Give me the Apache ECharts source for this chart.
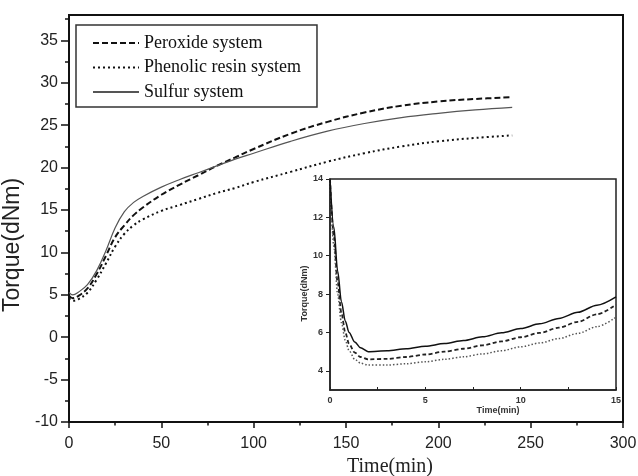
<!DOCTYPE html>
<html>
<head>
<meta charset="utf-8">
<title>Torque curves</title>
<script src="https://cdn.jsdelivr.net/npm/echarts@6/dist/echarts.min.js"></script>
<style>
html, body { margin: 0; padding: 0; background: #fff; }
#chart { width: 638px; height: 476px; }
</style>
</head>
<body>
<div id="chart"></div>
<script>
// main curves, 0-240 min
var timeMain = [0, 2, 5, 10, 15, 20, 25, 30, 35, 40, 50, 60, 70, 80, 90, 100, 120, 140, 160, 180, 200, 220, 240];
var peroxideMain = [4.9, 4.6, 4.85, 5.75, 7.45, 9.6, 11.8, 13.2, 14.4, 15.3, 16.8, 18.0, 19.1, 20.2, 21.2, 22.2, 24.0, 25.4, 26.5, 27.3, 27.8, 28.1, 28.3];
var phenolicMain = [4.6, 4.3, 4.47, 5.25, 6.8, 8.7, 10.7, 12.2, 13.2, 13.9, 14.9, 15.6, 16.3, 17.0, 17.6, 18.3, 19.5, 20.7, 21.7, 22.5, 23.1, 23.5, 23.8];
var sulfurMain = [5.3, 5.0, 5.3, 6.2, 7.85, 10.2, 12.9, 14.8, 15.9, 16.6, 17.7, 18.6, 19.4, 20.2, 21.0, 21.7, 23.1, 24.3, 25.2, 25.9, 26.4, 26.8, 27.1];

// inset curves, 0-15 min
var timeInset = [0, 0.2, 0.4, 0.6, 0.8, 1.0, 1.3, 1.6, 2, 3, 4, 5, 6, 7, 8, 9, 10, 11, 12, 13, 14, 15];
var peroxideInset = [14, 11, 8.6, 7.0, 6.0, 5.4, 4.95, 4.72, 4.6, 4.62, 4.72, 4.85, 5.0, 5.15, 5.33, 5.53, 5.75, 5.98, 6.25, 6.55, 6.95, 7.45];
var phenolicInset = [14, 10.5, 8.0, 6.5, 5.6, 5.05, 4.6, 4.4, 4.3, 4.3, 4.37, 4.47, 4.6, 4.73, 4.88, 5.05, 5.25, 5.45, 5.68, 5.95, 6.3, 6.8];
var sulfurInset = [14, 11.5, 9.2, 7.6, 6.6, 6.0, 5.5, 5.2, 5.0, 5.05, 5.15, 5.28, 5.42, 5.58, 5.77, 5.98, 6.2, 6.45, 6.73, 7.05, 7.42, 7.85];

var seriesNames = ['Peroxide system', 'Phenolic resin system', 'Sulfur system'];
var yTicksMain = [-10, -5, 0, 5, 10, 15, 20, 25, 30, 35];
var yTicksInset = [4, 6, 8, 10, 12, 14];

function pairs(xs, ys) {
    return xs.map(function (x, i) { return [x, ys[i]]; });
}

var ink = '#111';
var sans = 'Liberation Sans';
var serif = 'Liberation Serif';

var myChart = echarts.init(document.getElementById('chart'));
var option = {
    animation: false,
    backgroundColor: '#fff',
    color: [ink, ink, '#555'],
    legend: {
        left: 76,
        top: 25,
        orient: 'vertical',
        data: seriesNames,
        itemWidth: 46,
        itemHeight: 12,
        itemGap: 6.5,
        padding: [9, 16, 6, 16],
        borderColor: '#333',
        borderWidth: 1.5,
        itemStyle: { opacity: 0 },   // keep only the line sample
        textStyle: { fontFamily: serif, fontSize: 18, color: ink }
    },
    grid: [
        { left: 69, top: 15, right: 15, bottom: 54, outerBoundsMode: 'none', show: true, borderColor: ink, borderWidth: 2 },
        { left: 330, top: 179, width: 286, height: 211, outerBoundsMode: 'none', show: true, borderColor: '#222', borderWidth: 1.5 }
    ],
    xAxis: [
        {
            type: 'value', gridIndex: 0, min: 0, max: 300, interval: 50,
            axisLine: { onZero: false, lineStyle: { color: ink, width: 2 } },
            axisTick: { length: 6, lineStyle: { color: ink, width: 1.5 } },
            minorTick: { show: true, splitNumber: 2, length: 3.5, lineStyle: { color: ink, width: 1.5 } },
            splitLine: { show: false },
            axisLabel: { margin: 14, fontSize: 16, fontFamily: sans, color: '#222' },
            name: 'Time(min)', nameLocation: 'middle', nameGap: 34,
            nameTextStyle: { fontFamily: serif, fontSize: 20, color: '#222', padding: [0, 0, 0, 88] }
        },
        {
            type: 'value', gridIndex: 1, min: 0, max: 15, interval: 5,
            axisLine: { onZero: false, lineStyle: { color: '#222', width: 1.5 } },
            axisTick: { inside: true, length: 3, lineStyle: { color: '#222', width: 1 } },
            minorTick: { show: true, splitNumber: 2, length: 3, lineStyle: { color: '#222', width: 1 } },
            splitLine: { show: false },
            axisLabel: { margin: 6, fontSize: 9, fontWeight: 'bold', fontFamily: sans, color: '#333' },
            name: 'Time(min)', nameLocation: 'middle', nameGap: 16,
            nameTextStyle: { fontFamily: sans, fontWeight: 'bold', fontSize: 9, color: '#333', padding: [0, 0, 0, 50] }
        }
    ],
    yAxis: [
        {
            type: 'value', gridIndex: 0, min: -10, max: 38, interval: 5,
            axisLine: { onZero: false, lineStyle: { color: ink, width: 2 } },
            axisTick: { customValues: yTicksMain, length: 8, lineStyle: { color: ink, width: 1.5 } },
            minorTick: { show: true, splitNumber: 2, length: 4, lineStyle: { color: ink, width: 1.5 } },
            splitLine: { show: false },
            axisLabel: { customValues: yTicksMain, margin: 11, fontSize: 16, fontFamily: sans, color: '#222' },
            name: 'Torque(dNm)', nameLocation: 'middle', nameGap: 40,
            nameTextStyle: { fontFamily: sans, fontSize: 23, color: '#222', padding: [0, 53, 0, 0] }
        },
        {
            type: 'value', gridIndex: 1, min: 3, max: 14,
            axisLine: { onZero: false, lineStyle: { color: '#222', width: 1.5 } },
            axisTick: { customValues: yTicksInset, length: 4, lineStyle: { color: '#222', width: 1 } },
            splitLine: { show: false },
            axisLabel: { customValues: yTicksInset, margin: 7, fontSize: 9, fontWeight: 'bold', fontFamily: sans, color: '#333' },
            name: 'Torque(dNm)', nameLocation: 'middle', nameGap: 20,
            nameTextStyle: { fontFamily: sans, fontWeight: 'bold', fontSize: 9, color: '#333', padding: [0, 18, 0, 0] }
        }
    ],
    series: [
        {
            name: seriesNames[0], type: 'line', xAxisIndex: 0, yAxisIndex: 0,
            data: pairs(timeMain, peroxideMain), smooth: 0.4, symbol: 'none',
            lineStyle: { color: ink, width: 2, type: [6, 3] }
        },
        {
            name: seriesNames[1], type: 'line', xAxisIndex: 0, yAxisIndex: 0,
            data: pairs(timeMain, phenolicMain), smooth: 0.4, symbol: 'none',
            lineStyle: { color: ink, width: 2, type: [2, 3] }
        },
        {
            name: seriesNames[2], type: 'line', xAxisIndex: 0, yAxisIndex: 0,
            data: pairs(timeMain, sulfurMain), smooth: 0.4, symbol: 'none',
            lineStyle: { color: '#555', width: 1.2 }
        },
        // inset
        {
            name: seriesNames[0], type: 'line', xAxisIndex: 1, yAxisIndex: 1,
            data: pairs(timeInset, peroxideInset), smooth: 0.3, smoothMonotone: 'x', symbol: 'none',
            lineStyle: { color: '#222', width: 1.8, type: [4, 2.5] }
        },
        {
            name: seriesNames[1], type: 'line', xAxisIndex: 1, yAxisIndex: 1,
            data: pairs(timeInset, phenolicInset), smooth: 0.3, smoothMonotone: 'x', symbol: 'none',
            lineStyle: { color: '#555', width: 1.5, type: [1.5, 2] }
        },
        {
            name: seriesNames[2], type: 'line', xAxisIndex: 1, yAxisIndex: 1,
            data: pairs(timeInset, sulfurInset), smooth: 0.3, smoothMonotone: 'x', symbol: 'none',
            lineStyle: { color: '#111', width: 1.5 }
        }
    ]
};
myChart.setOption(option);
</script>
</body>
</html>
